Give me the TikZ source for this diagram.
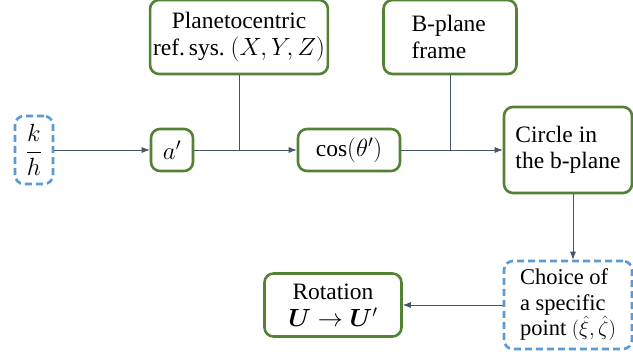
\documentclass[tikz,border=0pt]{standalone}
\usepackage{amsmath}
\usepackage{amssymb}
\usepackage{bm}
\usepackage{fontspec}
\setmainfont{Liberation Serif}
\usetikzlibrary{arrows.meta,positioning}
\definecolor{boxgreen}{RGB}{84,130,53}
\definecolor{boxblue}{RGB}{91,155,213}
\definecolor{flowgray}{RGB}{68,84,106}
\tikzset{
    greenbox/.style={draw=boxgreen, line width=2.6pt, rounded corners=9pt,
        fill=white, inner sep=3pt},
    bluebox/.style={draw=boxblue, line width=2.6pt, rounded corners=9pt,
        dash pattern=on 7pt off 4pt, fill=white, inner sep=3pt},
    flowarrow/.style={-{Latex[length=8pt,width=6pt]}, flowgray, line width=0.8pt},
    flowline/.style={flowgray, line width=0.8pt}
}

\begin{document}
\begin{tikzpicture}[x=1pt, y=-1pt, font=\fontsize{23.5}{26.5}\selectfont]
        \useasboundingbox (0,0) rectangle (633,360);

        \node[bluebox, minimum width=38pt, minimum height=68pt] (kh)
            at (34,150) {$\dfrac{k}{h}$};
        \node[greenbox, minimum width=42pt, minimum height=42pt] (aprime)
            at (172,150) {$a'$};
        \node[greenbox, minimum width=102pt, minimum height=42pt] (costheta)
            at (349,150) {$\cos(\theta')$};
        \node[greenbox, minimum width=128pt, minimum height=86pt, align=left]
            (circle) at (568,150) {Circle in\\the b-plane};

        \node[greenbox, minimum width=166pt, minimum height=74pt, align=center]
            (planeto) at (239,37) {Planetocentric\\ref.\,sys.\ $(X,Y,Z)$};
        \node[greenbox, minimum width=133pt, minimum height=74pt, align=left]
            (bframe) at (450,37) {B-plane\\frame\phantom{ne}};

        \node[bluebox, minimum width=128pt, minimum height=88pt, align=left,
            font=\fontsize{22.5}{25.5}\selectfont]
            (choice) at (568,305) {Choice of\\a specific\\point $(\hat{\xi},\hat{\zeta})$};
        \node[greenbox, minimum width=137pt, minimum height=63pt, align=center]
            (rotation) at (333,305) {Rotation\\[1pt]$\bm{U}\rightarrow\bm{U}'$};

        \draw[flowarrow] (kh) -- (aprime);
        \draw[flowarrow] (aprime) -- (costheta);
        \draw[flowarrow] (costheta) -- (circle);
        \draw[flowline] (planeto) -- (planeto |- aprime);
        \draw[flowline] (bframe) -- (bframe |- costheta);
        \draw[flowarrow] (circle.south -| 573,0) -- (choice.north -| 573,0);
        \draw[flowarrow] (choice) -- (rotation);
    \end{tikzpicture}
\end{document}
